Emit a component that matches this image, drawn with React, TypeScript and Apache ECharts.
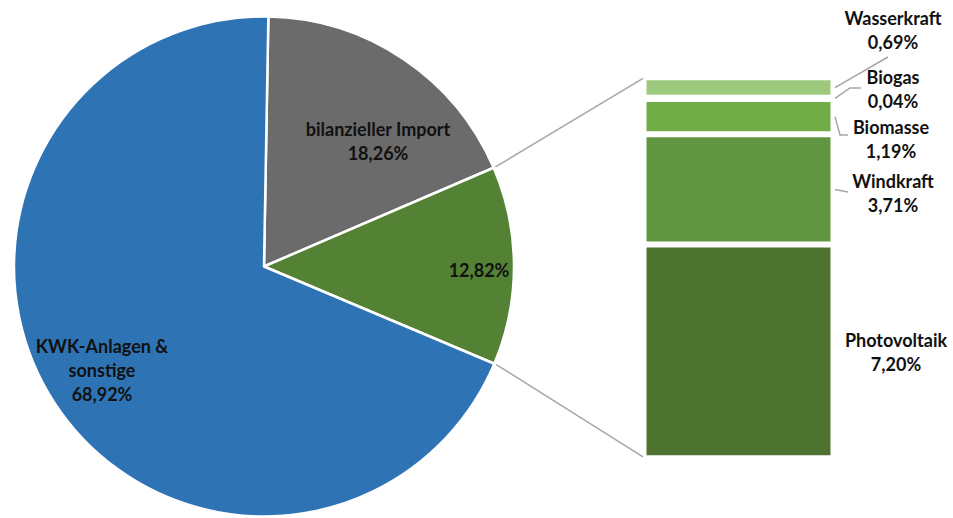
import React, { useEffect, useRef } from "react";
import * as echarts from "echarts";

// Pie data
const pieNames = ["bilanzieller Import", "Erneuerbare Energien", "KWK-Anlagen & sonstige"];
const pieLabelNames = ["bilanzieller Import", "", "KWK-Anlagen &\nsonstige"];
const pieValues = [18.26, 12.82, 68.92];
const pieColors = ["#6B6B6B", "#548235", "#2E74B5"];

// Bar (breakdown of renewables), bottom to top
const barNames = ["Photovoltaik", "Windkraft", "Biomasse", "Biogas", "Wasserkraft"];
const barValues = [7.2, 3.71, 1.19, 0.04, 0.69];
const barColors = ["#4E7230", "#619640", "#70AD47", "#84BD5E", "#9DC97E"];

// Label anchor positions (pixel centres)
const pieLabelPos = [
  [378, 141],
  [479, 270],
  [102, 370],
];
const barLabelPos = [
  [896, 352],
  [893, 193],
  [891, 139],
  [893, 89],
  [893, 30],
];
// leader line bends/ends (after the start on the bar's right edge)
const leaderEnds: number[][][] = [
  [],
  [[848, 192]],
  [[840, 135], [848, 135]],
  [[850, 88], [861, 88]],
  [[888, 57]],
];

const fmt = (v: number) => v.toFixed(2).replace(".", ",") + "%";

const PIE_CX = 264;
const PIE_CY = 266.5;
const PIE_R = 250;
const START = 89;

const labelText = {
  fontFamily: "Lato",
  fontWeight: "bold" as const,
  fontSize: 18,
  lineHeight: 24,
  color: "#111111",
};

export default function App() {
  const ref = useRef<HTMLDivElement>(null);
  useEffect(() => {
    if (!ref.current) return;
    const chart = echarts.init(ref.current, null, { renderer: "svg" });
    const barTotal = barValues.reduce((a, b) => a + b, 0);
    const pieTotal = pieValues.reduce((a, b) => a + b, 0);

    const option: any = {
      animation: false,
      grid: { left: 643.5, top: 77.3, width: 190, height: 381, containLabel: false },
      xAxis: { type: "category", data: ["EE"], show: false },
      yAxis: { type: "value", min: 0, max: barTotal, show: false },
      series: [
        {
          type: "pie",
          center: [PIE_CX, PIE_CY],
          radius: PIE_R,
          startAngle: START,
          clockwise: true,
          itemStyle: { borderColor: "#fff", borderWidth: 2.5 },
          label: {
            show: true,
            position: "inside",
            ...labelText,
            formatter: (p: any) => {
              const n = pieLabelNames[p.dataIndex];
              return n ? n + "\n" + fmt(p.value) : fmt(p.value);
            },
          },
          labelLine: { show: false },
          labelLayout: (p: any) => ({
            x: pieLabelPos[p.dataIndex][0],
            y: pieLabelPos[p.dataIndex][1],
            align: "center",
            verticalAlign: "middle",
          }),
          data: pieNames.map((n, i) => ({
            name: n,
            value: pieValues[i],
            itemStyle: { color: pieColors[i] },
          })),
        },
        ...barNames.map((n, i) => ({
          type: "bar",
          name: n,
          stack: "ee",
          barWidth: "100%",
          data: [barValues[i]],
          itemStyle: { color: barColors[i], borderColor: "#fff", borderWidth: 3 },
          label: {
            show: true,
            position: "right",
            ...labelText,
            formatter: () => n + "\n" + fmt(barValues[i]),
          },
          labelLine: { show: false },
          labelLayout: () => ({
            x: barLabelPos[i][0],
            y: barLabelPos[i][1],
            align: "center",
            verticalAlign: "middle",
          }),
        })),
      ],
    };
    chart.setOption(option);

    // connector lines from pie slice edges to bar corners
    const a1 = START - (pieValues[0] / pieTotal) * 360;
    const a2 = a1 - (pieValues[1] / pieTotal) * 360;
    const pt = (a: number) => {
      const r = (a * Math.PI) / 180;
      return [PIE_CX + (PIE_R + 2) * Math.cos(r), PIE_CY - (PIE_R + 2) * Math.sin(r)];
    };
    const toPx = (v: number) =>
      (chart.convertToPixel({ xAxisIndex: 0, yAxisIndex: 0 }, [0, v]) as number[])[1];
    const topY = toPx(barTotal);
    const botY = toPx(0);
    const barLeft = 643;
    const barRight = 835;
    const p1 = pt(a1);
    const p2 = pt(a2);

    const graphics: any[] = [
      {
        type: "line",
        shape: { x1: p1[0], y1: p1[1], x2: barLeft, y2: topY + 1 },
        style: { stroke: "#A6A6A6", lineWidth: 1.5 },
        z: 10,
      },
      {
        type: "line",
        shape: { x1: p2[0], y1: p2[1], x2: barLeft, y2: botY - 1.5 },
        style: { stroke: "#A6A6A6", lineWidth: 1.5 },
        z: 10,
      },
    ];
    let cum = 0;
    barValues.forEach((v, i) => {
      const mid = toPx(cum + v / 2);
      cum += v;
      if (!leaderEnds[i].length) return;
      graphics.push({
        type: "polyline",
        shape: { points: [[barRight, mid], ...leaderEnds[i]] },
        style: { stroke: "#A6A6A6", lineWidth: 1.5, fill: null },
        z: 10,
      });
    });
    chart.setOption({ graphic: graphics });
    return () => chart.dispose();
  }, []);
  return (
    <div
      ref={ref}
      style={{ position: "fixed", left: 0, top: 0, width: 953, height: 518, background: "#fff" }}
    />
  );
}
